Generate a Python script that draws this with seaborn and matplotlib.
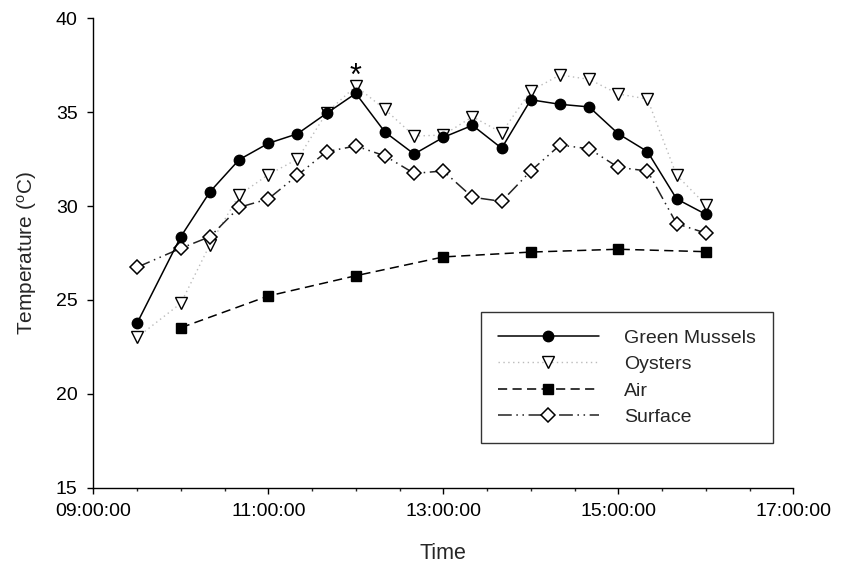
import numpy as np
import pandas as pd
import matplotlib
matplotlib.use("Agg")
import matplotlib.pyplot as plt
import matplotlib.dates as mdates
import seaborn as sns

# ---- data ----
times = ["09:30", "10:00", "10:20", "10:40", "11:00", "11:20", "11:40", "12:00",
         "12:20", "12:40", "13:00", "13:20", "13:40", "14:00", "14:20", "14:40",
         "15:00", "15:20", "15:40", "16:00"]
green_mussels = [23.76, 28.37, 30.76, 32.47, 33.34, 33.85, 34.94, 36.0,
                 33.94, 32.77, 33.66, 34.30, 33.08, 35.66, 35.42, 35.28,
                 33.85, 32.9, 30.38, 29.56]
oysters = [23.0, 24.82, 27.95, 30.59, 31.67, 32.5, 34.97, 36.39,
           35.15, 33.73, 33.78, 34.76, 33.91, 36.14, 36.98, 36.75,
           35.97, 35.70, 31.64, 30.07]
surface = [26.74, 27.75, 28.37, 29.93, 30.38, 31.64, 32.9, 33.2,
           32.67, 31.74, 31.87, 30.47, 30.25, 31.87, 33.25, 33.05,
           32.06, 31.87, 29.06, 28.56]
air_times = ["10:00", "11:00", "12:00", "13:00", "14:00", "15:00", "16:00"]
air = [23.52, 25.21, 26.29, 27.29, 27.55, 27.70, 27.57]
y_ticks = [15, 20, 25, 30, 35, 40]
x_ticks = ["09:00", "11:00", "13:00", "15:00", "17:00"]
star_time = "12:00"
star_value = 36.45

day = "2000-01-01 "
def to_dt(lst):
    return pd.to_datetime([day + t for t in lst])

df_main = pd.DataFrame({"Time": to_dt(times), "Green Mussels": green_mussels,
                        "Oysters": oysters, "Surface": surface})
df_air = pd.DataFrame({"Time": to_dt(air_times), "Air": air})

sns.set_style("ticks")
plt.rcParams["font.family"] = ["Liberation Sans", "DejaVu Sans"]
plt.rcParams["mathtext.default"] = "regular"

fig = plt.figure(figsize=(8.51, 5.69), dpi=100)
ax = fig.add_axes([93.3 / 851, 1 - 487.7 / 569, 700 / 851, 469.4 / 569])

ms = 7.5
sns.lineplot(data=df_main, x="Time", y="Green Mussels", ax=ax, color="black",
             linestyle="-", linewidth=1.1, marker="o", markersize=ms,
             markerfacecolor="black", markeredgecolor="black", markeredgewidth=1,
             label="Green Mussels", zorder=4)
sns.lineplot(data=df_main, x="Time", y="Oysters", ax=ax, color="#bbbbbb",
             linestyle=(0, (1, 2.5)), linewidth=1.0, marker="v", markersize=ms + 1.5,
             markerfacecolor="white", markeredgecolor="black", markeredgewidth=1,
             label="Oysters", zorder=3)
sns.lineplot(data=df_air, x="Time", y="Air", ax=ax, color="black",
             linestyle=(0, (6, 3.5)), linewidth=1.1, marker="s", markersize=ms,
             markerfacecolor="black", markeredgecolor="black", markeredgewidth=1,
             label="Air", zorder=3)
sns.lineplot(data=df_main, x="Time", y="Surface", ax=ax, color="#222222",
             linestyle=(0, (9, 3, 1, 3, 1, 3)), linewidth=1.1, marker="D", markersize=ms,
             markerfacecolor="white", markeredgecolor="black", markeredgewidth=1.1,
             label="Surface", zorder=3)

ax.text(pd.Timestamp(day + star_time), star_value, "*", ha="center", va="baseline",
        fontsize=22, color="black")

ax.set_xlim(pd.Timestamp(day + x_ticks[0]), pd.Timestamp(day + x_ticks[-1]))
ax.set_ylim(y_ticks[0], y_ticks[-1])
ax.set_yticks(y_ticks)
ax.set_xticks(to_dt(x_ticks))
ax.xaxis.set_major_formatter(mdates.DateFormatter("%H:%M:%S"))
ax.xaxis.set_minor_locator(mdates.MinuteLocator(byminute=[0, 30]))

for s in ["top", "right"]:
    ax.spines[s].set_visible(False)
for s in ["left", "bottom"]:
    ax.spines[s].set_linewidth(1.0)
    ax.spines[s].set_color("black")

ax.tick_params(axis="both", which="major", direction="out", length=4.3, width=1,
               labelsize=14, colors="black", pad=7)
ax.tick_params(axis="x", which="minor", direction="out", length=2.3, width=1)

ax.set_xlabel("Time", fontsize=15.5, labelpad=16)
ax.set_ylabel("Temperature ($^{o}$C)", fontsize=15, labelpad=12)

leg = ax.legend(loc="upper right", bbox_to_anchor=(0.971, 0.374), borderaxespad=0,
                fontsize=14, handlelength=5.2, handletextpad=1.3, labelspacing=0.45,
                frameon=True, fancybox=False, borderpad=0.88)
leg.get_frame().set_edgecolor("black")
leg.get_frame().set_linewidth(1.0)

fig.savefig("out.png", dpi=100)
